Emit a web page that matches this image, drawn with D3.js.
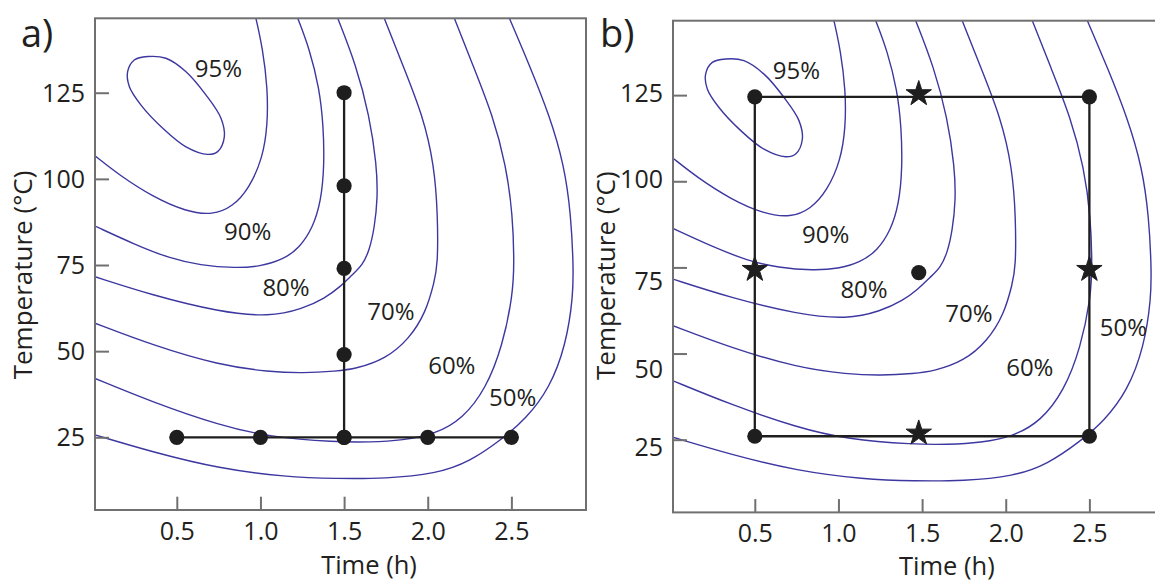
<!DOCTYPE html>
<html><head><meta charset="utf-8">
<script src="https://cdn.jsdelivr.net/npm/d3@7"></script>
<style>
html,body{margin:0;padding:0;background:#fff;}
svg{display:block;}
text{font-family:"Open Sans","Noto Sans",sans-serif;fill:#231f20;}
</style></head><body>
<svg id="chart" width="1155" height="581"></svg>
<script>
// ---------- data ----------
const timeTicks = [0.5, 1.0, 1.5, 2.0, 2.5];
const tempTicks = [25, 50, 75, 100, 125];

// yield contours, [time (h), temperature (°C)]
const contour95 = [[0.326,135.5],[0.435,135.0],[0.555,131.1],[0.675,124.3],[0.764,117.6],[0.784,112.2],[0.744,107.9],[0.685,107.1],[0.555,109.3],[0.416,114.7],[0.286,121.4],[0.216,126.8],[0.206,131.1],[0.246,134.5]];
const contour90 = [[0.973,146.6],[1.013,137.9],[1.043,126.3],[1.043,115.6],[1.013,106.0],[0.933,97.3],[0.834,91.9],[0.715,89.5],[0.555,90.5],[0.356,94.8],[0.156,101.1],[0.011,106.7]];
const contour80 = [[1.223,146.6],[1.292,137.9],[1.352,126.3],[1.376,115.6],[1.382,104.0],[1.362,93.4],[1.312,85.7],[1.232,79.9],[1.133,76.5],[0.997,74.6],[0.854,74.1],[0.639,74.9],[0.455,77.0],[0.256,80.8],[0.011,86.3]];
const contour70 = [[1.462,146.6],[1.571,133.1],[1.651,118.5],[1.695,104.0],[1.701,94.4],[1.681,85.7],[1.652,79.4],[1.611,75.0],[1.547,72.1],[1.475,68.6],[1.386,65.4],[1.253,62.3],[1.053,59.9],[0.754,61.4],[0.356,66.2],[0.011,71.6]];
const contour60 = [[1.740,146.6],[1.850,133.1],[1.970,118.5],[2.039,104.0],[2.060,89.5],[2.060,75.0],[2.039,70.1],[1.990,61.4],[1.890,53.6],[1.750,47.8],[1.571,44.9],[1.452,44.2],[1.256,43.6],[1.053,44.0],[0.754,45.9],[0.356,51.7],[0.011,58.1]];
const contour50 = [[2.159,146.6],[2.269,133.1],[2.388,118.5],[2.468,104.0],[2.508,89.5],[2.517,75.4],[2.508,66.2],[2.448,51.7],[2.348,39.1],[2.209,30.4],[2.049,26.0],[1.850,24.1],[1.651,23.6],[1.452,23.6],[1.053,25.1],[0.754,28.5],[0.356,35.2],[0.011,42.1]];
const contourOuter = [[2.488,146.6],[2.607,133.1],[2.727,118.5],[2.816,104.0],[2.856,89.5],[2.870,75.4],[2.870,66.2],[2.826,51.7],[2.727,39.1],[2.587,30.4],[2.448,24.6],[2.248,17.8],[2.049,14.4],[1.750,13.0],[1.452,13.0],[1.153,13.5],[0.754,15.9],[0.356,20.7],[0.011,25.7]];

const levelNames = ["95%","90%","80%","70%","60%","50%"];
const labelPosA = [[0.749,132.1],[0.924,84.7],[1.153,68.6],[1.780,61.6],[2.144,45.9],[2.508,36.7]];
const labelPosB = [[0.749,132.1],[0.924,84.7],[1.153,68.6],[1.780,61.6],[2.144,45.9],[2.703,57.6]];

// panel a: one-factor-at-a-time design
const ofatTimes = [0.5, 1.0, 1.5, 2.0, 2.5];   // at 25 °C
const ofatTimeTemp = 25;
const ofatTemps = [25, 49, 74, 98, 125];       // at 1.5 h
const ofatTempTime = 1.5;

// panel b: factorial design with star points
const ffCorners = [[0.5,124.5],[2.5,124.5],[2.5,26],[0.5,26]];
const ffStars = [[1.48,124.5],[0.5,73.5],[2.5,73.5],[1.48,26]];
const ffCenter = [[1.48,73.5]];

// ---------- layout ----------
const W = 491, H = 491.7;
const xDomain = [0.011, 2.946], yDomain = [3.9, 146.6];
const svg = d3.select("#chart");
const frameColor = "#707070", contourColor = "#3d37a0", ink = "#1e1e1e";

const panels = [
  {left:95, top:18.3, letter:"a)", letterX:21, labels:labelPosA, labelShift:[0,0,0,0,0],
   ytitle:[32,275], xtitle:[369,574]},
  {left:673, top:20.7, letter:"b)", letterX:600, labels:labelPosB, labelShift:[7,15,14,-2,-2],
   ytitle:[615,275.7], xtitle:[946.8,574.5]}
];

const contours = [contour90, contour80, contour70, contour60, contour50, contourOuter];

panels.forEach((p, i) => {
  const x = d3.scaleLinear().domain(xDomain).range([0, W]);
  const y = d3.scaleLinear().domain(yDomain).range([H, 0]);
  const g = svg.append("g").attr("transform", `translate(${p.left},${p.top})`);

  const clipId = "clip" + i;
  g.append("clipPath").attr("id", clipId).append("rect").attr("width", W).attr("height", H);
  const plot = g.append("g").attr("clip-path", `url(#${clipId})`);

  const line = d3.line().x(d => x(d[0])).y(d => y(d[1])).curve(d3.curveBasis);
  const closed = d3.line().x(d => x(d[0])).y(d => y(d[1])).curve(d3.curveCatmullRomClosed.alpha(0.5));

  plot.append("path").attr("d", closed(contour95))
    .attr("fill","none").attr("stroke",contourColor).attr("stroke-width",1.4);
  contours.forEach(c => plot.append("path").attr("d", line(c))
    .attr("fill","none").attr("stroke",contourColor).attr("stroke-width",1.4));

  // percent labels
  g.selectAll("text.lvl").data(levelNames).join("text").attr("class","lvl")
    .attr("x",(d,k)=>x(p.labels[k][0])).attr("y",(d,k)=>y(p.labels[k][1]))
    .attr("dy","0.36em").attr("text-anchor","middle").attr("font-size",24).text(d=>d);

  // frame
  g.append("rect").attr("width",W).attr("height",H).attr("fill","none")
    .attr("stroke",frameColor).attr("stroke-width",2);

  // axes with inward ticks
  const yAxis = d3.axisLeft(y).tickValues(tempTicks).tickSizeInner(-14).tickSizeOuter(0).tickPadding(10);
  const ya = g.append("g").call(yAxis);
  ya.select(".domain").remove();
  ya.selectAll("line").attr("stroke",frameColor).attr("stroke-width",2);
  ya.selectAll("text").attr("font-size",25).attr("font-family",null).attr("fill","#231f20")
    .attr("dy","0.34em")
    .attr("transform",(d,k)=>`translate(0,${p.labelShift[k]})`);

  const xAxis = d3.axisBottom(x).tickValues(timeTicks).tickFormat(d3.format(".1f"))
    .tickSizeInner(-13.3).tickSizeOuter(0).tickPadding(12);
  const xa = g.append("g").attr("transform",`translate(0,${H})`).call(xAxis);
  xa.select(".domain").remove();
  xa.selectAll("line").attr("stroke",frameColor).attr("stroke-width",2);
  xa.selectAll("text").attr("font-size",25).attr("font-family",null).attr("fill","#231f20");

  // design
  if (i === 0) {
    const row = ofatTimes.map(t => [t, ofatTimeTemp]);
    const col = ofatTemps.map(T => [ofatTempTime, T]);
    g.append("line").attr("x1",x(d3.min(ofatTimes))).attr("x2",x(d3.max(ofatTimes)))
      .attr("y1",y(ofatTimeTemp)).attr("y2",y(ofatTimeTemp)).attr("stroke",ink).attr("stroke-width",2.3);
    g.append("line").attr("x1",x(ofatTempTime)).attr("x2",x(ofatTempTime))
      .attr("y1",y(d3.min(ofatTemps))).attr("y2",y(d3.max(ofatTemps))).attr("stroke",ink).attr("stroke-width",2.3);
    g.selectAll("circle.pt").data(row.concat(col)).join("circle").attr("class","pt")
      .attr("cx",d=>x(d[0])).attr("cy",d=>y(d[1])).attr("r",7.6).attr("fill",ink);
  } else {
    g.append("path").attr("d", d3.line().x(d=>x(d[0])).y(d=>y(d[1])).curve(d3.curveLinearClosed)(ffCorners))
      .attr("fill","none").attr("stroke",ink).attr("stroke-width",2.3);
    g.selectAll("circle.pt").data(ffCorners.concat(ffCenter)).join("circle").attr("class","pt")
      .attr("cx",d=>x(d[0])).attr("cy",d=>y(d[1])).attr("r",7.6).attr("fill",ink);
    const star = d3.symbol().type(d3.symbolStar).size(200);
    g.selectAll("path.star").data(ffStars).join("path").attr("class","star")
      .attr("d",star).attr("transform",d=>`translate(${x(d[0])},${y(d[1])-3})`).attr("fill",ink)
      .attr("stroke",ink).attr("stroke-width",1).attr("stroke-linejoin","round");
  }

  // titles
  svg.append("text").attr("transform",`translate(${p.ytitle[0]},${p.ytitle[1]}) rotate(-90)`)
    .attr("text-anchor","middle").attr("font-size",26).text("Temperature (°C)");
  svg.append("text").attr("x",p.xtitle[0]).attr("y",p.xtitle[1])
    .attr("text-anchor","middle").attr("font-size",25.5).text("Time (h)");
  svg.append("text").attr("x",p.letterX).attr("y",47).attr("font-size",38).text(p.letter);
});
</script>
</body></html>
